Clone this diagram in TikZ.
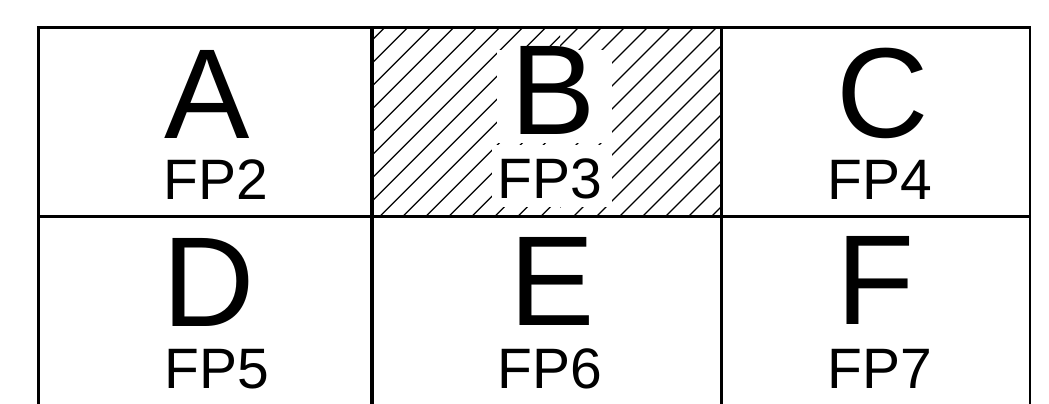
\documentclass[tikz,border=0pt]{standalone}
\usepackage{fontspec}
\setmainfont{Liberation Sans}
\begin{document}
\begin{tikzpicture}[x=1pt,y=-1pt,
  hline/.style={line width=3.8pt},
  vline/.style={line width=3.1pt},
  hatch/.style={line width=1.25pt},
  knock/.style={fill=white},
  big/.style={font=\fontsize{128}{128}\selectfont, inner sep=0pt, anchor=base, text depth=0pt},
  small/.style={font=\fontsize{57}{57}\selectfont, inner sep=0pt, anchor=base}]
\useasboundingbox (0,0) rectangle (1049,404);
% hatching of cell B
\begin{scope}
  \clip (372,27.5) rectangle (560,216.5);
  \foreach \k in {-2,...,17} \draw[hatch] ({412.3+23*\k-260},260) -- ({412.3+23*\k},0);
\end{scope}
\begin{scope}
  \clip (560,27.5) rectangle (721.5,216.5);
  \foreach \k in {-8,...,10} \draw[hatch] ({744+23*\k-260},260) -- ({744+23*\k},0);
\end{scope}
\fill[knock] (497,50) rectangle (612,143);
\fill[knock] (492,145) rectangle (612,207);
% grid
\coordinate (tl) at (38.5,27.5);
\coordinate (tr) at (1030,27.5);
\coordinate (bl) at (38.5,404);
\coordinate (br) at (1030,404);
\coordinate (ml) at (38.5,216.5);
\coordinate (mr) at (1030,216.5);
\coordinate (c1t) at (372,27.5);
\coordinate (c1b) at (372,404);
\coordinate (c2t) at (721.5,27.5);
\coordinate (c2b) at (721.5,404);
\draw[hline] ([xshift=-1.55pt]tl) -- ([xshift=1.3pt]tr);
\draw[hline] (ml) -- (mr);
\draw[vline] (tl) -- (bl);
\draw[vline, line width=2.6pt] (tr) -- (br);
\draw[vline] (c1t) -- (c1b);
\draw[vline] (c2t) -- (c2b);
% labels
\node[big] (A) at (206.7,138.3) {A};
\node[small] (fp2) at (216,199) {FP2};
\node[big] (B) at (553.4,134.5) {B};
\node[small] (fp3) at (549.5,198.5) {FP3};
\node[big] (C) at (882.5,137.3) {C};
\node[small] (fp4) at (879.5,199) {FP4};
\node[big] (D) at (208.7,326.7) {D};
\node[small] (fp5) at (216.5,388.3) {FP5};
\node[big] (E) at (552.4,325) {E};
\node[small] (fp6) at (549.5,388.3) {FP6};
\node[big] (F) at (875.3,324) {F};
\node[small] (fp7) at (879.5,388) {FP7};
\end{tikzpicture}
\end{document}
